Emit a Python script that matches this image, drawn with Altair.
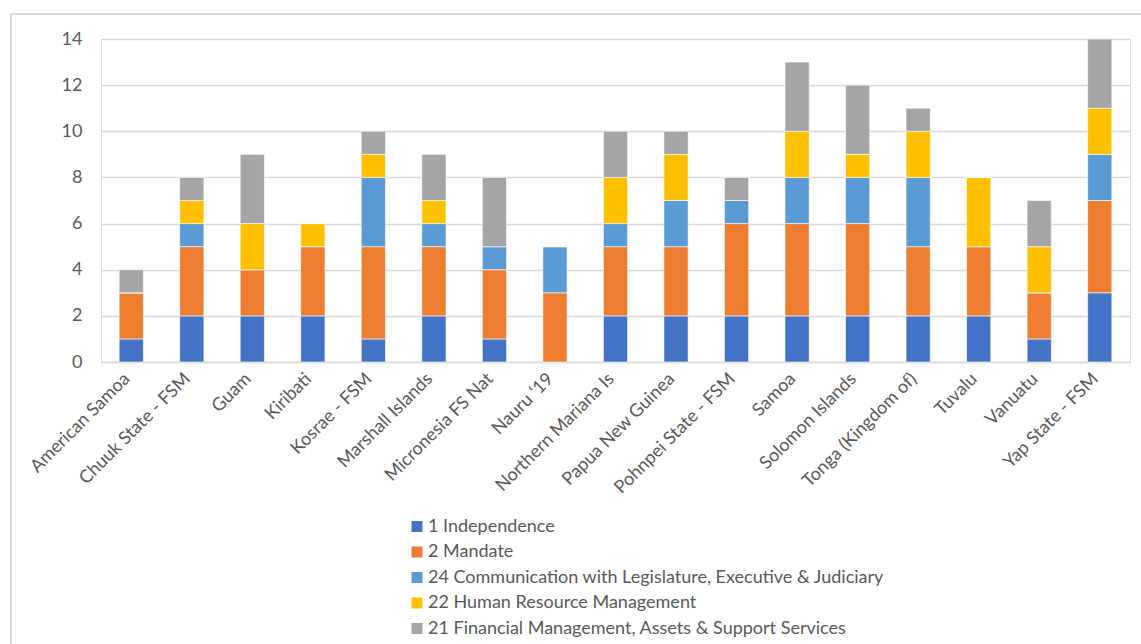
import altair as alt
import pandas as pd

countries = [
    "American Samoa", "Chuuk State - FSM", "Guam", "Kiribati", "Kosrae - FSM",
    "Marshall Islands", "Micronesia FS Nat", "Nauru \u201819", "Northern Mariana Is",
    "Papua New Guinea", "Pohnpei State - FSM", "Samoa", "Solomon Islands",
    "Tonga (Kingdom of)", "Tuvalu", "Vanuatu", "Yap State - FSM",
]
series = [
    "1 Independence",
    "2 Mandate",
    "24 Communication with Legislature, Executive & Judiciary",
    "22 Human Resource Management",
    "21 Financial Management, Assets & Support Services",
]
colors = ["#4472C4", "#ED7D31", "#5B9BD5", "#FFC000", "#A5A5A5"]

independence = [1, 2, 2, 2, 1, 2, 1, 0, 2, 2, 2, 2, 2, 2, 2, 1, 3]
mandate      = [2, 3, 2, 3, 4, 3, 3, 3, 3, 3, 4, 4, 4, 3, 3, 2, 4]
communication= [0, 1, 0, 0, 3, 1, 1, 2, 1, 2, 1, 2, 2, 3, 0, 0, 2]
hr           = [0, 1, 2, 1, 1, 1, 0, 0, 2, 2, 0, 2, 1, 2, 3, 2, 2]
financial    = [1, 1, 3, 0, 1, 2, 3, 0, 2, 1, 1, 3, 3, 1, 0, 2, 3]

values = [independence, mandate, communication, hr, financial]
rows = []
for k, (s, vals) in enumerate(zip(series, values)):
    for c, v in zip(countries, vals):
        rows.append({"country": c, "series": s, "value": v, "k": k})
df = pd.DataFrame(rows)

FONT = "Lato"
GREY = "#595959"
FS = 18

bars = alt.Chart(df).mark_bar(stroke="white", strokeWidth=0.6).encode(
    x=alt.X("country:N", sort=countries, title=None,
            scale=alt.Scale(paddingInner=0.6, paddingOuter=0.3),
            axis=alt.Axis(labelAngle=-45, labelAlign="right", labelBaseline="middle",
                          labelFont=FONT, labelFontSize=FS, labelColor=GREY,
                          labelPadding=14, labelOffset=-4, ticks=False,
                          domainColor="#d9d9d9", domainWidth=1.5, labelLimit=300)),
    y=alt.Y("value:Q", title=None, stack="zero",
            scale=alt.Scale(domain=[0, 14], nice=False),
            axis=alt.Axis(values=[0, 2, 4, 6, 8, 10, 12, 14], domain=False, ticks=False,
                          gridColor="#d9d9d9", gridWidth=1.5,
                          labelFont=FONT, labelFontSize=FS, labelColor=GREY,
                          labelPadding=19)),
    color=alt.Color("series:N", sort=series,
                    scale=alt.Scale(domain=series, range=colors),
                    legend=alt.Legend(title=None, orient="none", legendX=307, legendY=478.5,
                                      direction="vertical", symbolType="square",
                                      symbolSize=121, symbolStrokeWidth=0,
                                      labelFont=FONT, labelFontSize=FS, labelColor=GREY,
                                      labelOffset=2, rowPadding=7.5, labelLimit=700)),
    order=alt.Order("k:Q", sort="ascending"),
)

frame = alt.Chart(pd.DataFrame({"a": [0]})).mark_rect(
    fill=None, stroke="#d9d9d9", strokeWidth=2
).encode(
    x=alt.value(-90), x2=alt.value(1060), y=alt.value(-25), y2=alt.value(700)
)

chart = alt.layer(frame, bars).properties(
    width=1029, height=323,
    padding={"left": 101, "top": 39, "right": 11, "bottom": 282},
    autosize=alt.AutoSizeParams(type="none"),
).configure_view(stroke=None).configure(background="white")

chart.save("out.html", embed_options={"renderer": "svg", "actions": False})
